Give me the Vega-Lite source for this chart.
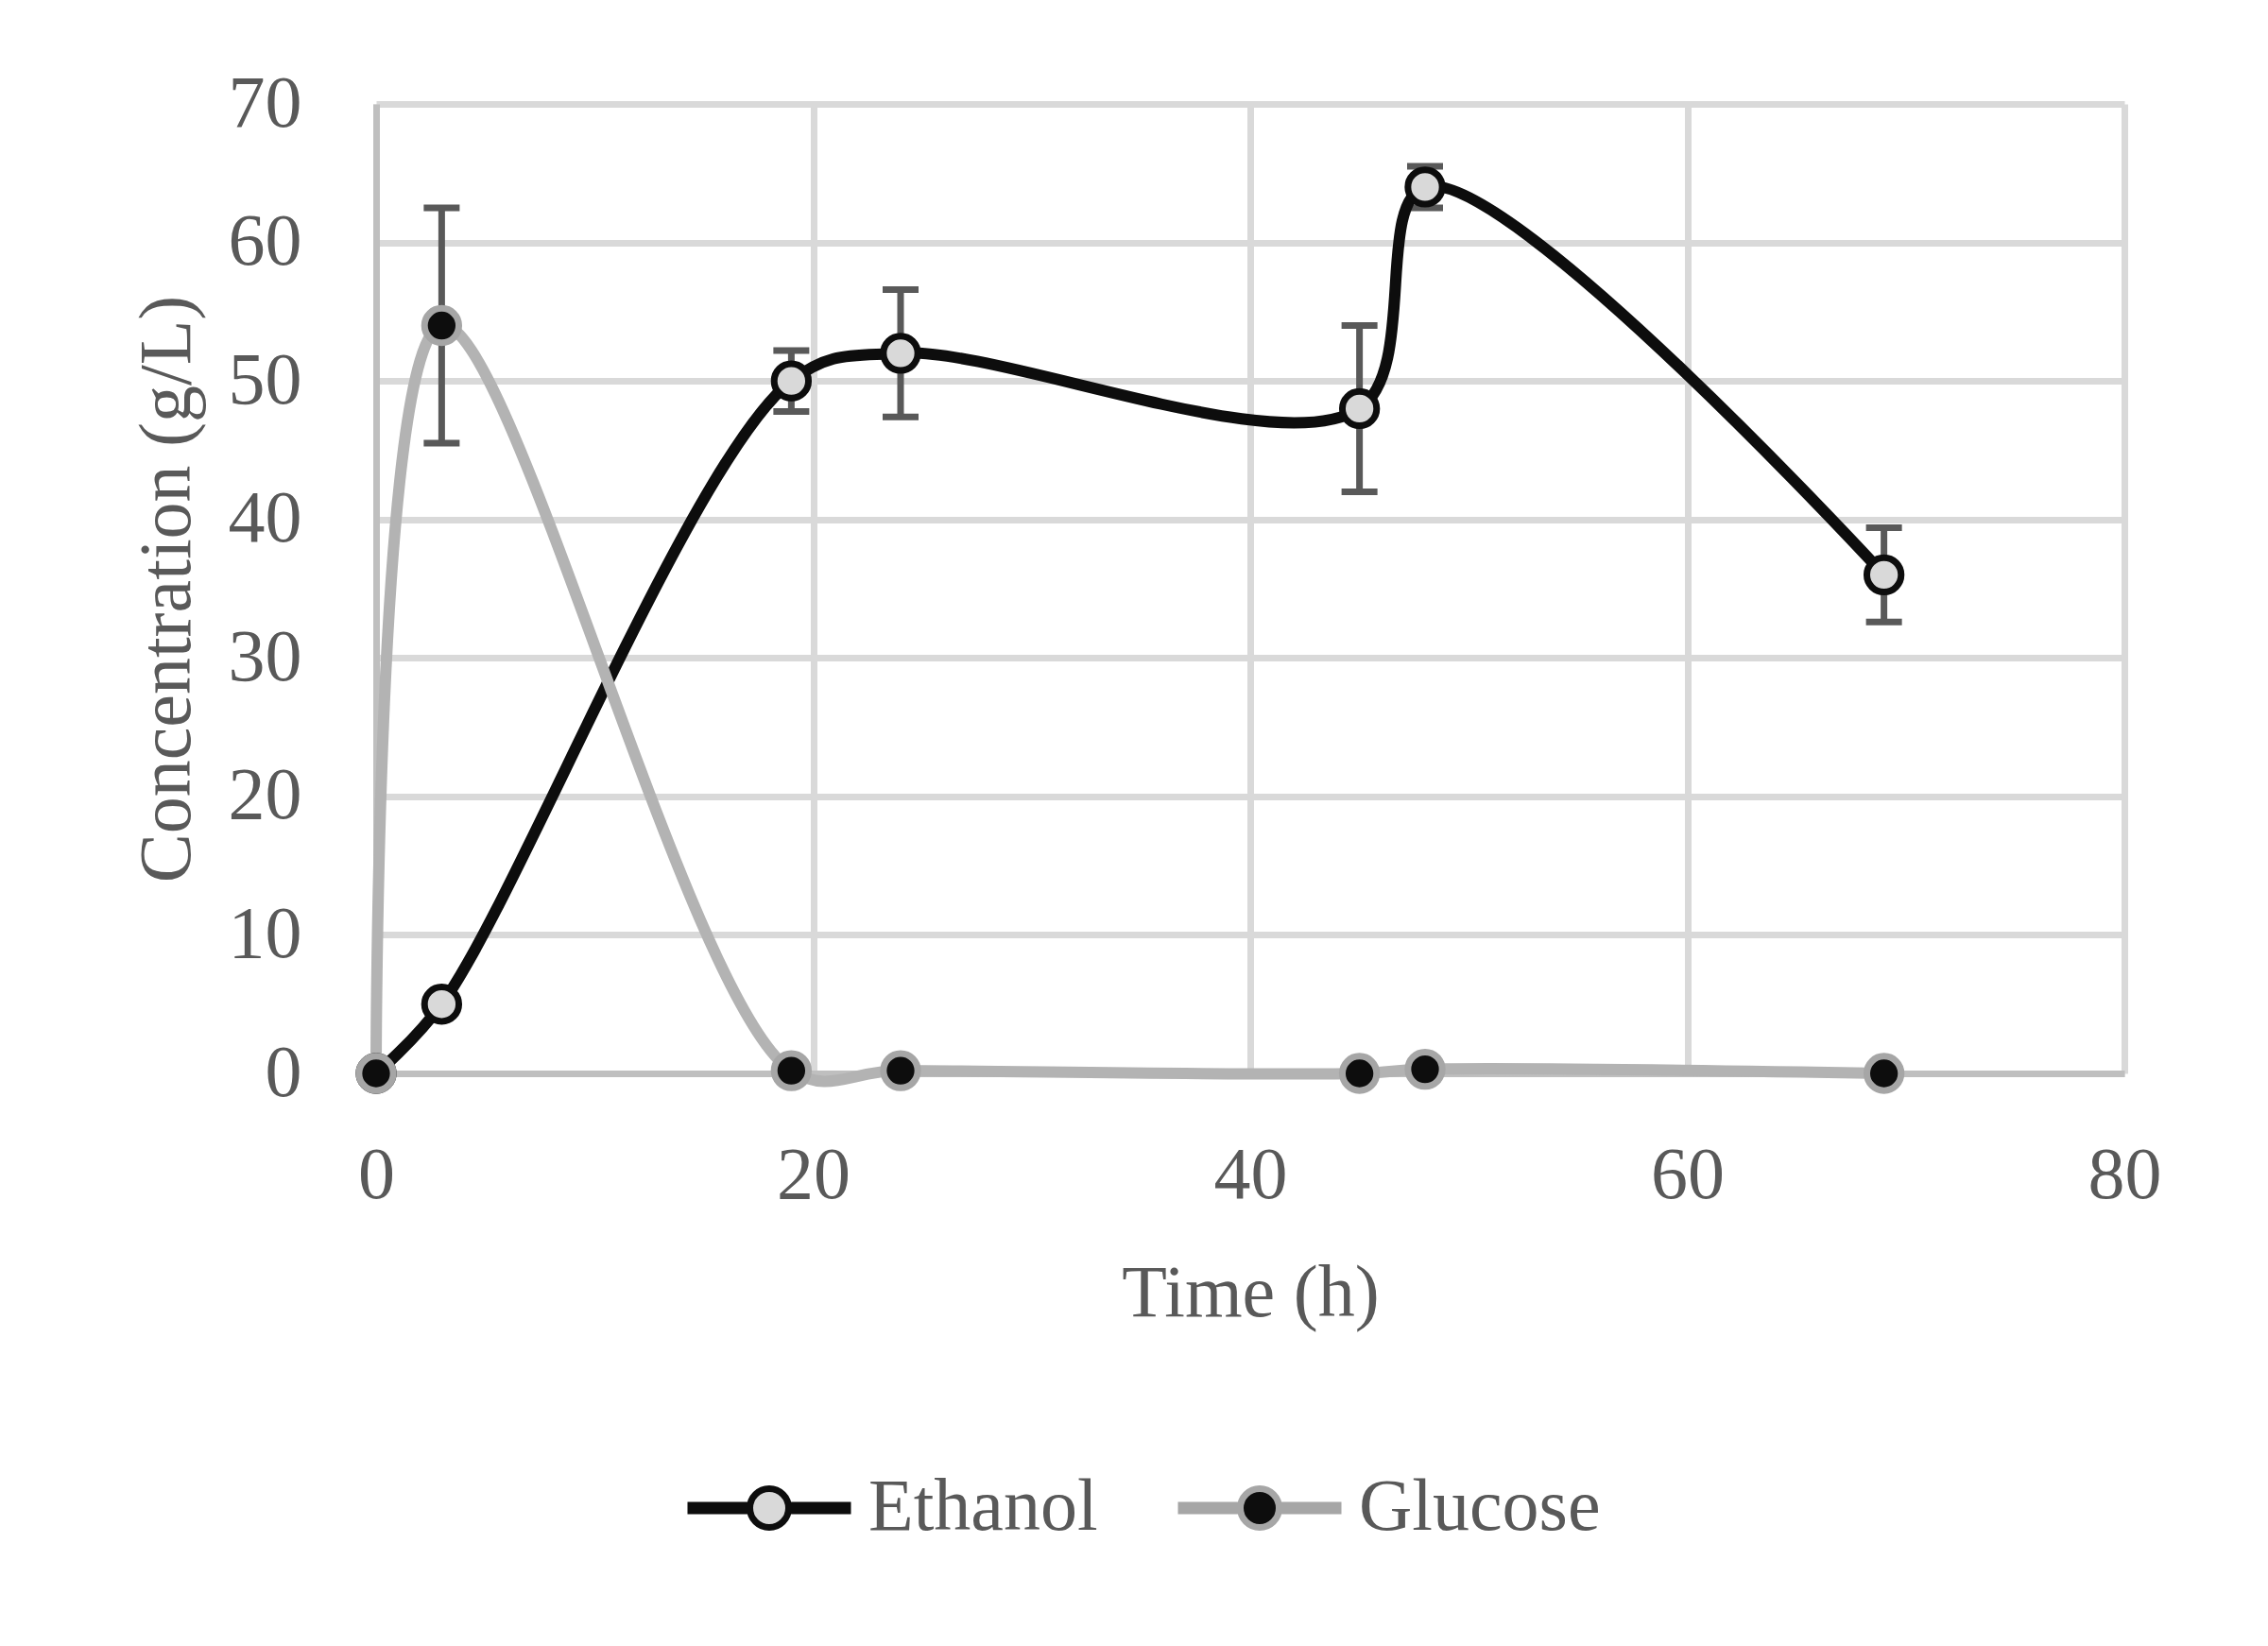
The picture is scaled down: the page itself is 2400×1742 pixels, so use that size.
{
  "$schema": "https://vega.github.io/schema/vega-lite/v6.json",
  "autosize": {"type": "none"},
  "width": 1850,
  "height": 1026,
  "padding": {"left": 398, "top": 110, "right": 152, "bottom": 606},
  "background": "#ffffff",
  "data": {
    "values": [
      {"t": 0, "series": "Ethanol", "value": 0},
      {"t": 3, "series": "Ethanol", "value": 5},
      {"t": 19, "series": "Ethanol", "value": 50, "lo": 47.8, "hi": 52.2},
      {"t": 24, "series": "Ethanol", "value": 52, "lo": 47.4, "hi": 56.6},
      {"t": 45, "series": "Ethanol", "value": 48, "lo": 42, "hi": 54},
      {"t": 48, "series": "Ethanol", "value": 64, "lo": 62.5, "hi": 65.5},
      {"t": 69, "series": "Ethanol", "value": 36, "lo": 32.6, "hi": 39.4},
      {"t": 0, "series": "Glucose", "value": 0},
      {"t": 3, "series": "Glucose", "value": 54, "lo": 45.5, "hi": 62.5},
      {"t": 19, "series": "Glucose", "value": 0.2},
      {"t": 24, "series": "Glucose", "value": 0.2},
      {"t": 45, "series": "Glucose", "value": 0},
      {"t": 48, "series": "Glucose", "value": 0.3},
      {"t": 69, "series": "Glucose", "value": 0}
    ]
  },
  "encoding": {
    "x": {
      "field": "t", "type": "quantitative",
      "scale": {"domain": [0, 80], "nice": false, "zero": false},
      "axis": {"title": "Time (h)", "values": [0, 20, 40, 60, 80], "labelPadding": 69, "titlePadding": 47}
    }
  },
  "layer": [
    {
      "transform": [{"filter": "isValid(datum.lo)"}],
      "mark": {"type": "rule", "color": "#595959", "strokeWidth": 7},
      "encoding": {
        "y": {"field": "lo", "type": "quantitative", "scale": {"domain": [0, 70], "nice": false},
              "axis": {"title": "Concentration (g/L)", "values": [0, 10, 20, 30, 40, 50, 60, 70]}},
        "y2": {"field": "hi"}
      }
    },
    {
      "transform": [{"filter": "isValid(datum.lo)"}],
      "mark": {"type": "tick", "orient": "horizontal", "color": "#595959", "size": 38, "thickness": 7, "opacity": 1},
      "encoding": {"y": {"field": "lo", "type": "quantitative", "scale": {"domain": [0, 70], "nice": false},
              "axis": {"title": "Concentration (g/L)", "values": [0, 10, 20, 30, 40, 50, 60, 70]}}}
    },
    {
      "transform": [{"filter": "isValid(datum.lo)"}],
      "mark": {"type": "tick", "orient": "horizontal", "color": "#595959", "size": 38, "thickness": 7, "opacity": 1},
      "encoding": {"y": {"field": "hi", "type": "quantitative", "scale": {"domain": [0, 70], "nice": false},
              "axis": {"title": "Concentration (g/L)", "values": [0, 10, 20, 30, 40, 50, 60, 70]}}}
    },
    {
      "transform": [{"filter": "datum.series === 'Ethanol'"}],
      "mark": {"type": "line", "interpolate": "catmull-rom", "color": "#0d0d0d", "strokeWidth": 12, "strokeCap": "round", "strokeJoin": "round"},
      "encoding": {"y": {"field": "value", "type": "quantitative", "scale": {"domain": [0, 70], "nice": false},
              "axis": {"title": "Concentration (g/L)", "values": [0, 10, 20, 30, 40, 50, 60, 70]}}}
    },
    {
      "transform": [{"filter": "datum.series === 'Glucose'"}],
      "mark": {"type": "line", "interpolate": "catmull-rom", "color": "#b3b3b3", "strokeWidth": 12, "strokeCap": "round", "strokeJoin": "round"},
      "encoding": {"y": {"field": "value", "type": "quantitative", "scale": {"domain": [0, 70], "nice": false},
              "axis": {"title": "Concentration (g/L)", "values": [0, 10, 20, 30, 40, 50, 60, 70]}}}
    },
    {
      "mark": {"type": "point", "shape": "circle", "size": 1320, "strokeWidth": 7, "opacity": 1, "filled": false},
      "encoding": {
        "y": {"field": "value", "type": "quantitative", "scale": {"domain": [0, 70], "nice": false},
              "axis": {"title": "Concentration (g/L)", "values": [0, 10, 20, 30, 40, 50, 60, 70]}},
        "fill": {
          "field": "series", "type": "nominal",
          "scale": {"domain": ["Ethanol", "Glucose"], "range": ["#d9d9d9", "#0d0d0d"]},
          "legend": {
            "title": null, "orient": "none", "legendX": 326, "legendY": 1396, "direction": "horizontal",
            "symbolType": "M-1,-0.035H-0.237M-1,0H-0.237M-1,0.035H-0.237M0.237,-0.035H1M0.237,0H1M0.237,0.035H1M0.237,0A0.237,0.237,0,1,1,-0.237,0A0.237,0.237,0,1,1,0.237,0Z",
            "symbolSize": 29929, "symbolStrokeWidth": 7, "labelOffset": 15, "columnPadding": 70, "padding": 0, "labelLimit": 0
          }
        },
        "stroke": {
          "field": "series", "type": "nominal",
          "scale": {"domain": ["Ethanol", "Glucose"], "range": ["#0d0d0d", "#a6a6a6"]},
          "legend": {
            "title": null, "orient": "none", "legendX": 326, "legendY": 1396, "direction": "horizontal",
            "symbolType": "M-1,-0.035H-0.237M-1,0H-0.237M-1,0.035H-0.237M0.237,-0.035H1M0.237,0H1M0.237,0.035H1M0.237,0A0.237,0.237,0,1,1,-0.237,0A0.237,0.237,0,1,1,0.237,0Z",
            "symbolSize": 29929, "symbolStrokeWidth": 7, "labelOffset": 15, "columnPadding": 70, "padding": 0, "labelLimit": 0
          }
        }
      }
    }
  ],
  "config": {
    "view": {"stroke": null},
    "font": "Liberation Serif",
    "axis": {
      "labelFont": "Liberation Serif", "labelFontSize": 78, "labelColor": "#595959",
      "titleFont": "Liberation Serif", "titleFontSize": 78, "titleColor": "#595959", "titleFontWeight": "normal",
      "ticks": false, "tickSize": 0,
      "grid": true, "gridColor": "#d9d9d9", "gridWidth": 7,
      "domain": true, "domainColor": "#bfbfbf", "domainWidth": 7,
      "labelFlush": false, "labelOverlap": false
    },
    "axisY": {"labelPadding": 79, "titlePadding": 25},
    "legend": {"labelFont": "Liberation Serif", "labelFontSize": 78, "labelColor": "#595959", "symbolOpacity": 1, "labelLimit": 0}
  }
}
